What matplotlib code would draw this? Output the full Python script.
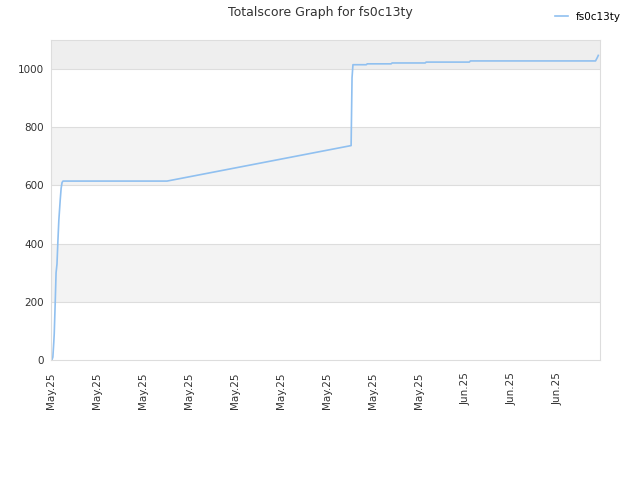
import matplotlib.pyplot as plt
import numpy as np

# x in tick units (one unit per date tick), y = total score
days = [0.02, 0.04, 0.06, 0.07, 0.09, 0.11, 0.13, 0.15, 0.17, 0.20, 0.22, 0.24, 0.26,
        2.52, 6.52, 6.54, 6.56, 6.85, 6.87, 7.39, 7.41, 8.13, 8.15, 9.09, 9.11,
        11.83, 11.87, 11.89]
score = [0, 10, 60, 90, 190, 300, 330, 410, 480, 550, 590, 610, 615,
         615, 737, 970, 1015, 1015, 1018, 1018, 1021, 1021, 1024, 1024, 1028,
         1028, 1040, 1047]
tick_pos = list(range(12))
tick_labels = ['May.25'] * 9 + ['Jun.25'] * 3

fig = plt.figure(figsize=(6.4, 4.8), dpi=100)
ax = fig.add_axes([0.0797, 0.25, 0.858, 0.6667])

# alternating background bands
bands = [(200, 400, '#f3f3f3'), (600, 800, '#f3f3f3'), (1000, 1100, '#eeeeee')]
for lo, hi, c in bands:
    ax.axhspan(lo, hi, color=c, zorder=0, lw=0)
for yv in range(200, 1100, 200):
    ax.axhline(yv, color='#dddddd', lw=0.8, zorder=1)

ax.plot(days, score, color='#90c0f0', lw=1.2, label='fs0c13ty', zorder=2)

ax.set_xlim(0, 11.93)
ax.set_ylim(0, 1100)
ax.set_yticks(range(0, 1100, 200))
ax.set_xticks(tick_pos)
ax.set_xticklabels(tick_labels, rotation=90)
ax.tick_params(length=0, labelsize=7.5, colors='#333333', pad=5)
ax.tick_params(axis='x', pad=9)
for s in ax.spines.values():
    s.set_color('#dddddd')

fig.suptitle('Totalscore Graph for fs0c13ty', fontsize=9, color='#333333', y=0.987)
fig.legend(loc='upper right', bbox_to_anchor=(0.985, 0.995), frameon=False, fontsize=7.5,
           handlelength=1.2)

fig.savefig('out.png')
